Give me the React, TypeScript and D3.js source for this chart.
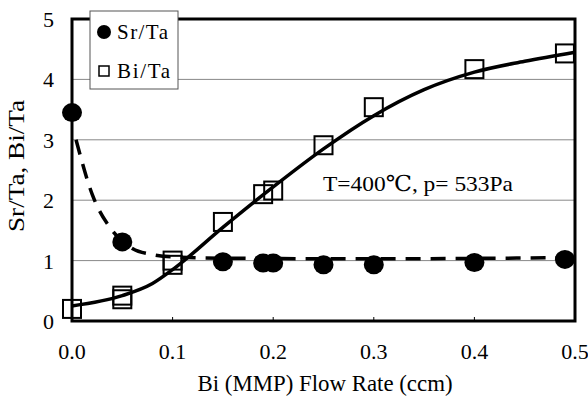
import React from "react";
import * as d3 from "d3";

const srX = [0.0, 0.05, 0.15, 0.19, 0.2, 0.25, 0.3, 0.4, 0.49];
const srY = [3.45, 1.31, 0.98, 0.96, 0.96, 0.93, 0.93, 0.97, 1.02];
const biX = [0.0, 0.05, 0.05, 0.1, 0.1, 0.15, 0.19, 0.2, 0.25, 0.3, 0.4, 0.49];
const biY = [0.2, 0.42, 0.36, 1.0, 0.93, 1.64, 2.1, 2.16, 2.91, 3.54, 4.17, 4.43];
const fitBiX = [0.0, 0.05, 0.08, 0.1, 0.15, 0.2, 0.25, 0.3, 0.35, 0.4, 0.45, 0.5];
const fitBiY = [0.25, 0.42, 0.62, 0.85, 1.55, 2.22, 2.85, 3.4, 3.83, 4.12, 4.3, 4.45];
const fitSrX = [0.004, 0.02, 0.04, 0.06, 0.08, 0.1, 0.15, 0.3, 0.5];
const fitSrY = [3.0, 2.1, 1.5, 1.2, 1.1, 1.06, 1.04, 1.03, 1.05];
const xTicks = [0, 0.1, 0.2, 0.3, 0.4, 0.5];
const yTicks = [0, 1, 2, 3, 4, 5];

export default function App() {
  const W = 588, H = 406;
  const x = d3.scaleLinear().domain([0, 0.5]).range([72, 575]);
  const y = d3.scaleLinear().domain([0, 5]).range([321, 19]);
  const font = "'Liberation Serif', 'DejaVu Serif', serif";
  const line = d3
    .line<[number, number]>()
    .x((d) => x(d[0]))
    .y((d) => y(d[1]))
    .curve(d3.curveMonotoneX);
  const biFit = line(fitBiX.map((v, i) => [v, fitBiY[i]]));
  const srFit = line(fitSrX.map((v, i) => [v, fitSrY[i]]));
  const sq = 18;
  return (
    <svg width={W} height={H} style={{ position: "absolute", left: 0, top: 0 }} fontFamily={font}>
      <rect width={W} height={H} fill="#fff" />
      {yTicks.slice(1, 5).map((t) => (
        <line key={t} x1={x(0)} x2={x(0.5)} y1={y(t)} y2={y(t)} stroke="#888" strokeWidth={1} />
      ))}
      {xTicks.map((t) => (
        <line key={"xt" + t} x1={x(t)} x2={x(t)} y1={y(0)} y2={y(0) - 4} stroke="#000" strokeWidth={1} />
      ))}
      <path d={srFit || ""} fill="none" stroke="#000" strokeWidth={3.5} strokeDasharray="15,10" />
      <path d={biFit || ""} fill="none" stroke="#000" strokeWidth={3.5} />
      {srX.map((v, i) => (
        <ellipse key={"s" + i} cx={x(v)} cy={y(srY[i])} rx={10} ry={9.5} fill="#000" />
      ))}
      {biX.map((v, i) => (
        <rect
          key={"b" + i}
          x={x(v) - sq / 2}
          y={y(biY[i]) - sq / 2}
          width={sq}
          height={sq}
          fill="none"
          stroke="#000"
          strokeWidth={2}
        />
      ))}
      <rect x={x(0)} y={y(5)} width={x(0.5) - x(0)} height={y(0) - y(5)} fill="none" stroke="#000" strokeWidth={3} />
      {yTicks.map((t) => (
        <text key={"yl" + t} x={54} y={y(t) + 8} textAnchor="end" fontSize={22} fill="#000">
          {t}
        </text>
      ))}
      {xTicks.map((t) => (
        <text key={"xl" + t} x={x(t)} y={359} textAnchor="middle" fontSize={22} fill="#000">
          {t.toFixed(1)}
        </text>
      ))}
      <text x={325} y={391} textAnchor="middle" fontSize={23} fill="#000" textLength={255} lengthAdjust="spacingAndGlyphs">
        Bi (MMP) Flow Rate (ccm)
      </text>
      <text transform={`translate(24,166) rotate(-90)`} textAnchor="middle" fontSize={23} fill="#000" textLength={132} lengthAdjust="spacingAndGlyphs">
        Sr/Ta, Bi/Ta
      </text>
      <rect x={90} y={11} width={88} height={78} fill="#fff" stroke="#555" strokeWidth={1} />
      <circle cx={104} cy={32} r={7} fill="#000" />
      <text x={117} y={39} fontSize={21} fill="#000" textLength={51} lengthAdjust="spacing">Sr/Ta</text>
      <rect x={99} y={66} width={10} height={10} fill="none" stroke="#000" strokeWidth={1.5} />
      <text x={117} y={78} fontSize={21} fill="#000" textLength={53} lengthAdjust="spacing">Bi/Ta</text>
      <text x={323} y={191} fontSize={22} fill="#000" textLength={190} lengthAdjust="spacingAndGlyphs">T=400℃, p= 533Pa</text>
    </svg>
  );
}
